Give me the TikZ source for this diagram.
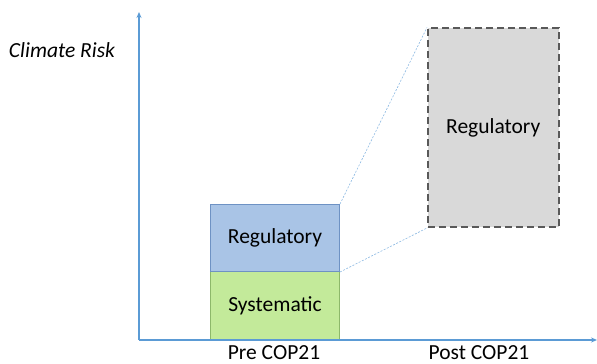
\documentclass[tikz,border=0pt]{standalone}
\usepackage{fontspec}
\setmainfont{Carlito}
\usepackage{tikz}
\usetikzlibrary{arrows.meta,positioning}
\definecolor{axisblue}{RGB}{91,155,213}
\definecolor{regfill}{RGB}{169,196,230}
\definecolor{regline}{RGB}{110,146,196}
\definecolor{sysfill}{RGB}{195,234,154}
\definecolor{sysline}{RGB}{141,184,106}
\definecolor{zoomfill}{RGB}{217,217,217}
\definecolor{zoomline}{RGB}{89,89,89}

\begin{document}
\begin{tikzpicture}[
        x=1pt, y=1pt,
        font=\fontsize{21.5}{25}\selectfont,
        % Style cho các khối
        axisline/.style={draw=axisblue, line width=1.6pt, -{Stealth[length=6pt,width=5pt]}},
        regbox/.style={rectangle, draw=regline, fill=regfill, line width=1pt, minimum width=129pt, minimum height=67pt, inner sep=0pt, anchor=south west},
        sysbox/.style={rectangle, draw=sysline, fill=sysfill, line width=1pt, minimum width=129pt, minimum height=68pt, inner sep=0pt, anchor=south west},
        zoombox/.style={rectangle, draw=zoomline, fill=zoomfill, line width=1.5pt, dash pattern=on 7pt off 4pt, minimum width=131pt, minimum height=199pt, inner sep=0pt, anchor=south west},
        guide/.style={draw=axisblue!70, line width=0.6pt, dash pattern=on 2pt off 1.5pt}
    ]
        \useasboundingbox (0,0) rectangle (597,364);

        % Trục
        \coordinate (origin) at (139,24);
        \coordinate (ytop) at (139,352);
        \coordinate (xend) at (597,24);

        % Khối
        \node[sysbox] (sys) at (210,24) {Systematic};
        \node[regbox] (reg) at (210,92) {Regulatory};
        \node[zoombox] (zoom) at (427,136) {Regulatory};

        % Đường phóng to
        \draw[guide] (reg.north east) -- (zoom.north west);
        \draw[guide] (reg.south east) -- (zoom.south west);

        \draw[axisline] (origin) -- (ytop);
        \draw[axisline] (origin) -- (xend);

        % Nhãn
        \node (risk) at (62,314) {\itshape Climate Risk};
        \node (pre) at (274,11) {Pre COP21};
        \node (post) at (479,11) {Post COP21};

    \end{tikzpicture}
\end{document}
